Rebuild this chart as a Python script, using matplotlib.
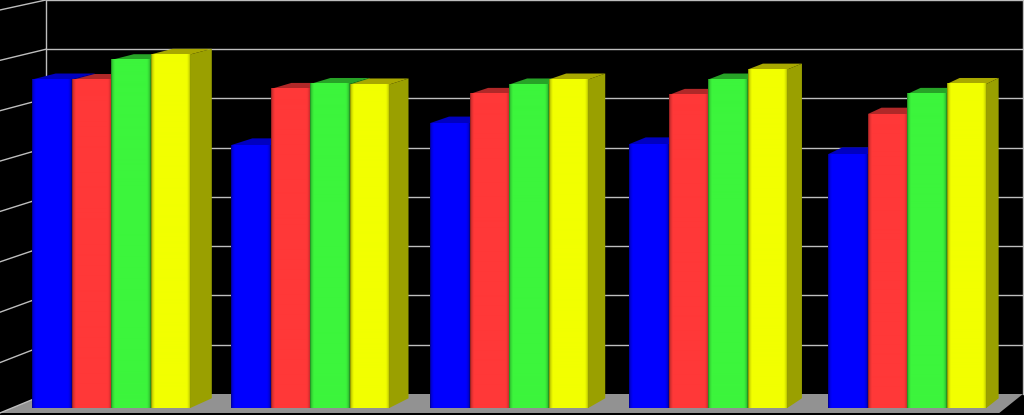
import numpy as np
import matplotlib
matplotlib.use("Agg")
import matplotlib.pyplot as plt
from matplotlib.patches import Polygon
from matplotlib.colors import to_rgb

# ---- data (values in gridline units, 0..8) ----
categories = ["G1", "G2", "G3", "G4", "G5"]
series_blue = [6.56, 5.25, 5.69, 5.27, 5.07]
series_red = [6.55, 6.37, 6.27, 6.25, 5.87]
series_green = [6.95, 6.47, 6.46, 6.56, 6.27]
series_yellow = [7.06, 6.46, 6.56, 6.76, 6.47]
y_ticks = list(range(0, 9))

series = [series_blue, series_red, series_green, series_yellow]
front_cols = ["#0000FF", "#FF3838", "#3CF53C", "#F2FF00"]
top_cols = ["#0000C0", "#B02828", "#27A327", "#A8A800"]
side_cols = ["#00009A", "#9A2020", "#1F8A1F", "#9AA000"]

# ---- projection (simple one-point perspective) ----
VPX, VPY = 2060.0, -438.0
Y0, U = 408.0, 50.08          # base line and px per unit at bar front plane
F_FLOOR_FRONT, F_BAR, F_WALL = -0.0059, 0.0115, 0.01655
X_LEFT, X_RIGHT = 12.0, 1005.5
GROUP_X0, GROUP_STEP, BAR_W = 32.3, 199.0, 39.5


def yw(v):
    return Y0 - U * v


def proj(x, y, f):
    return (VPX + (x - VPX) * (1 - f), VPY + (y - VPY) * (1 - f))


fig = plt.figure(figsize=(10.24, 4.15), dpi=100)
fig.patch.set_facecolor("black")
ax = fig.add_axes([0, 0, 1, 1])
ax.set_facecolor("black")
ax.axis("off")

grid_c = "#BEBEBE"

# floor
floor = [proj(X_LEFT, yw(0), F_FLOOR_FRONT), proj(X_RIGHT, yw(0), F_FLOOR_FRONT),
         proj(X_RIGHT, yw(0), F_WALL), proj(X_LEFT, yw(0), F_WALL)]
ax.add_patch(Polygon(floor, closed=True, facecolor="#929292", edgecolor="none", zorder=1))

# gridlines: back wall + left wall
for v in y_ticks[1:]:
    a = proj(X_LEFT, yw(v), F_WALL)
    b = proj(X_RIGHT, yw(v), F_WALL)
    c = proj(X_LEFT, yw(v), F_FLOOR_FRONT)
    ax.plot([a[0], b[0]], [a[1], b[1]], color=grid_c, lw=1.0, zorder=2)
    ax.plot([c[0], a[0]], [c[1], a[1]], color=grid_c, lw=1.0, zorder=2)
# wall corners (left and right edges of back wall)
for xe in (X_LEFT, X_RIGHT):
    p0 = proj(xe, yw(0), F_WALL)
    p1 = proj(xe, yw(8), F_WALL)
    ax.plot([p0[0], p1[0]], [p0[1], p1[1]], color=grid_c, lw=1.0, zorder=2)
# left wall bottom edge
p0 = proj(X_LEFT, yw(0), F_WALL)
q0 = proj(X_LEFT, yw(0), F_FLOOR_FRONT)
ax.plot([q0[0], p0[0]], [q0[1], p0[1]], color=grid_c, lw=1.0, zorder=2)

# horizontal shading profile for front faces
nx = 40
t = np.linspace(0, 1, nx)
edge = np.clip(np.minimum(t, 1 - t) / 0.09, 0, 1)
shade = 0.62 + 0.38 * np.sqrt(edge)

z = 3
for g in range(len(categories)):
    for s, vals in enumerate(series):
        v = vals[g]
        x = GROUP_X0 + GROUP_STEP * g + BAR_W * s
        xr = x + BAR_W
        yb, yt = yw(0), yw(v)
        side = [proj(xr, yb, 0), proj(xr, yt, 0), proj(xr, yt, F_BAR), proj(xr, yb, F_BAR)]
        top = [proj(x, yt, 0), proj(xr, yt, 0), proj(xr, yt, F_BAR), proj(x, yt, F_BAR)]
        ax.add_patch(Polygon(side, closed=True, facecolor=side_cols[s], edgecolor="none", zorder=z))
        ax.add_patch(Polygon(top, closed=True, facecolor=top_cols[s], edgecolor="none", zorder=z))
        rgb = np.array(to_rgb(front_cols[s]))
        img = (shade[None, :, None] * rgb[None, None, :])
        ax.imshow(img, extent=(x, xr, yb, yt), aspect="auto", interpolation="bilinear",
                  zorder=z + 0.5)
        z += 1

ax.set_xlim(0, 1024)
ax.set_ylim(415, 0)
fig.savefig("out.png", dpi=100, facecolor="black")
